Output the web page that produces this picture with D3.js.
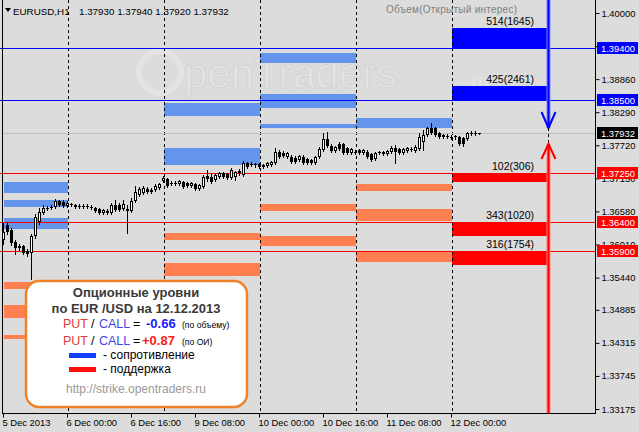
<!DOCTYPE html>
<html><head><meta charset="utf-8">
<script src="https://cdn.jsdelivr.net/npm/d3@7"></script>
<style>
html,body{margin:0;padding:0;background:#dcdcdc;}
svg{display:block;font-family:"Liberation Sans",Arial,sans-serif;}
</style></head><body>
<svg id="c" width="639" height="432"></svg>
<script>
// ---------- data ----------
const opens  = [1.36087,1.36346,1.36259,1.36053,1.35984,1.35984,1.35898,1.35863,1.36156,1.36398,1.36552,1.36621,1.36639,1.36656,1.36759,1.36742,
1.36673,1.36708,1.36690,1.36673,1.36673,1.36665,1.36656,1.36639,1.36621,1.36552,1.36587,1.36552,1.36690,1.36690,1.36621,1.36621,1.36587,1.36759,1.36863,1.36897,1.36966,1.36949,1.36949,1.36983,
1.37104,1.37139,1.37070,1.37060,1.37052,1.37087,1.37070,1.37018,1.37052,1.36966,1.37001,1.37190,1.37173,1.37121,1.37173,1.37242,1.37225,1.37156,1.37173,1.37242,1.37208,1.37415,1.37397,1.37390,
1.37397,1.37380,1.37363,1.37380,1.37415,1.37604,1.37587,1.37518,1.37518,1.37501,1.37466,1.37518,1.37484,1.37466,1.37415,1.37518,1.37639,1.37828,1.37708,1.37621,1.37742,1.37742,1.37673,1.37587,
1.37604,1.37639,1.37587,1.37604,1.37570,1.37484,1.37604,1.37604,1.37570,1.37604,1.37673,1.37656,1.37587,1.37621,1.37656,1.37621,1.37656,1.37777,1.37897,1.38018,1.38018,1.37932,1.37897,1.37880,
1.37863,1.37858,1.37863,1.37846,1.37828,1.37932,1.37925,1.37930];
const highs  = [1.36380,1.36398,1.36294,1.36087,1.36018,1.36001,1.35932,1.36190,1.36535,1.36639,1.36690,1.36673,1.36690,1.36794,1.36777,1.36777,
1.36759,1.36725,1.36708,1.36708,1.36708,1.36708,1.36690,1.36656,1.36639,1.36621,1.36621,1.36725,1.36777,1.36725,1.36777,1.36690,1.36811,1.37018,1.37001,1.37018,1.37001,1.36983,1.37052,1.37070,
1.37190,1.37156,1.37104,1.37104,1.37121,1.37104,1.37087,1.37087,1.37070,1.37052,1.37208,1.37294,1.37242,1.37225,1.37259,1.37259,1.37242,1.37328,1.37277,1.37311,1.37449,1.37432,1.37432,1.37415,
1.37415,1.37397,1.37432,1.37449,1.37673,1.37639,1.37621,1.37604,1.37553,1.37535,1.37553,1.37553,1.37501,1.37484,1.37535,1.37690,1.37932,1.37949,1.37742,1.37708,1.37777,1.37759,1.37690,1.37673,
1.37639,1.37656,1.37656,1.37639,1.37587,1.37604,1.37621,1.37621,1.37639,1.37708,1.37725,1.37673,1.37673,1.37690,1.37690,1.37725,1.37932,1.37983,1.38035,1.38104,1.38035,1.37949,1.37915,1.37915,
1.37897,1.37897,1.37880,1.37863,1.37949,1.37966,1.37966,1.37940];
const lows   = [1.36018,1.36190,1.36001,1.35846,1.35915,1.35846,1.35812,1.35415,1.36122,1.36363,1.36535,1.36604,1.36621,1.36639,1.36673,1.36656,
1.36656,1.36673,1.36639,1.36639,1.36639,1.36639,1.36621,1.36570,1.36535,1.36535,1.36535,1.36535,1.36587,1.36587,1.36604,1.36208,1.36570,1.36742,1.36846,1.36880,1.36897,1.36897,1.36932,1.36966,
1.37087,1.37001,1.37035,1.37035,1.37035,1.36983,1.37001,1.37001,1.36949,1.36949,1.36983,1.37104,1.37070,1.37104,1.37156,1.37156,1.37139,1.37139,1.37121,1.37208,1.37190,1.37328,1.37363,1.37346,
1.37328,1.37328,1.37346,1.37363,1.37397,1.37501,1.37518,1.37501,1.37415,1.37415,1.37449,1.37397,1.37397,1.37397,1.37397,1.37501,1.37621,1.37690,1.37604,1.37604,1.37639,1.37570,1.37570,1.37570,
1.37570,1.37570,1.37570,1.37501,1.37449,1.37466,1.37570,1.37553,1.37553,1.37587,1.37415,1.37570,1.37570,1.37604,1.37621,1.37604,1.37639,1.37639,1.37880,1.37915,1.37880,1.37846,1.37846,1.37846,
1.37828,1.37828,1.37725,1.37708,1.37811,1.37897,1.37897,1.37920];
const closes = [1.36225,1.36225,1.36036,1.35949,1.35949,1.35863,1.35846,1.36156,1.36483,1.36570,1.36639,1.36639,1.36656,1.36759,1.36690,1.36673,
1.36725,1.36690,1.36656,1.36665,1.36656,1.36673,1.36650,1.36587,1.36552,1.36604,1.36552,1.36690,1.36604,1.36604,1.36708,1.36587,1.36759,1.36914,1.36966,1.36983,1.36914,1.36914,1.37018,1.37052,
1.37156,1.37018,1.37060,1.37070,1.37104,1.37001,1.37018,1.37070,1.36966,1.37035,1.37173,1.37139,1.37087,1.37208,1.37242,1.37173,1.37156,1.37294,1.37259,1.37277,1.37415,1.37346,1.37390,1.37380,
1.37346,1.37346,1.37415,1.37432,1.37604,1.37518,1.37535,1.37587,1.37432,1.37432,1.37535,1.37415,1.37415,1.37415,1.37518,1.37656,1.37828,1.37708,1.37621,1.37690,1.37656,1.37587,1.37587,1.37656,
1.37595,1.37587,1.37639,1.37518,1.37466,1.37587,1.37595,1.37570,1.37621,1.37673,1.37604,1.37587,1.37656,1.37673,1.37650,1.37690,1.37863,1.37897,1.38018,1.37932,1.37897,1.37863,1.37863,1.37875,
1.37858,1.37880,1.37742,1.37742,1.37932,1.37925,1.37930,1.37932];

const symbol = "EURUSD,H1";
const lastBar = ["1.37930","1.37940","1.37920","1.37932"];
const timeTickIdx = [0,16,32,48,64,80,96,112];
const timeTickLabels = ["5 Dec 2013","6 Dec 00:00","6 Dec 16:00","9 Dec 08:00","10 Dec 00:00","10 Dec 16:00","11 Dec 08:00","12 Dec 00:00"];
const daySepIdx = [16,40,64,88,112];
const priceTicks = [1.40000,1.39430,1.38860,1.38290,1.37720,1.37150,1.36580,1.36010,1.35440,1.34885,1.34315,1.33745,1.33175];
// 1.39430 is fully covered by the 1.39400 marker in the reference, so its label is blank
const priceTickLabels = ["1.40000","","1.38860","1.38290","1.37720","1.37150","1.36580","1.36010","1.35440","1.34885","1.34315","1.33745","1.33175"];

// past option levels: [startBar, endBar, top, bottom]
const pastResist = [
 [0,16,1.37087,1.36897],[0,16,1.36777,1.36656],[0,16,1.36466,1.36277],
 [40,64,1.38449,1.38225],[40,64,1.37673,1.37380],
 [64,88,1.39311,1.39138],[64,88,1.38604,1.38363],[64,88,1.38087,1.38018],
 [88,112,1.38190,1.38018]
];
const pastSupport = [
 [0,16,1.35364,1.35243],[0,16,1.34967,1.34743],[0,16,1.34450,1.34381],
 [40,64,1.36208,1.36087],[40,64,1.35691,1.35467],
 [64,88,1.36708,1.36587],[64,88,1.36156,1.35984],
 [88,112,1.37052,1.36932],[88,112,1.36621,1.36415],[88,112,1.35898,1.35708]
];
// current day (12 Dec) levels
const curStart = 112, curEnd = 136;
const curResLevel = [1.39400, 1.38500];
const curResTop   = [1.39741, 1.38742];
const curResLabel = ["514(1645)", "425(2461)"];
const curSupLevel = [1.37250, 1.36400, 1.35900];
const curSupBottom= [1.37087, 1.36156, 1.35657];
const curSupLabel = ["102(306)", "343(1020)", "316(1754)"];
const lastPrice = 1.37932;
const putCallVolume = "-0.66", putCallOI = "+0.87";

// ---------- drawing ----------
const svg = d3.select("#c");
const W = 639, H = 432;
const plotL = 2, plotR = 595, plotB = 413;
const x = d3.scaleLinear().domain([0, 119]).range([3.5, 479.5]);
const y = d3.scaleLinear().domain([1.33175, 1.40000]).range([409, 13]);
const py = v => Math.round(y(v)) + 0.5;

svg.append("rect").attr("width", W).attr("height", H).attr("fill", "#dcdcdc");

// watermark
const wm = svg.append("g").attr("opacity", 0.25);
wm.append("circle").attr("cx", 160).attr("cy", 72).attr("r", 21).attr("fill", "none").attr("stroke", "#ffffff").attr("stroke-width", 6);
wm.append("text").attr("x", 184).attr("y", 88).attr("font-size", 42).attr("fill", "#ffffff").attr("stroke", "#bdbdbd").attr("stroke-width", 1).text("penTraders");
wm.append("text").attr("x", 466).attr("y", 88).attr("font-size", 20).attr("fill", "#ffffff").text(".ru");

// past level blocks
svg.append("g").selectAll("rect").data(pastResist).join("rect")
  .attr("x", d => Math.round(x(d[0]))).attr("width", d => Math.round(x(d[1])) - Math.round(x(d[0])))
  .attr("y", d => Math.round(y(d[2]))).attr("height", d => Math.round(y(d[3])) - Math.round(y(d[2])))
  .attr("fill", "#6495ed");
svg.append("g").selectAll("rect").data(pastSupport).join("rect")
  .attr("x", d => Math.round(x(d[0]))).attr("width", d => Math.round(x(d[1])) - Math.round(x(d[0])))
  .attr("y", d => Math.round(y(d[2]))).attr("height", d => Math.round(y(d[3])) - Math.round(y(d[2])))
  .attr("fill", "#ff7f50");

// current blocks
const cx0 = Math.round(x(curStart)), cx1 = Math.round(x(curEnd));
curResLevel.forEach((lv, i) => {
  const t = Math.round(y(curResTop[i])), b = Math.round(y(lv));
  svg.append("rect").attr("x", cx0).attr("width", cx1 - cx0).attr("y", t).attr("height", b - t).attr("fill", "#0000ff");
  svg.append("text").attr("x", 534).attr("y", t - 3).attr("text-anchor", "end").attr("font-size", 10.5).attr("fill", "#000").text(curResLabel[i]);
});
curSupLevel.forEach((lv, i) => {
  const t = Math.round(y(lv)), b = Math.round(y(curSupBottom[i]));
  svg.append("rect").attr("x", cx0).attr("width", cx1 - cx0).attr("y", t).attr("height", b - t).attr("fill", "#ff0000");
  svg.append("text").attr("x", 534).attr("y", t - 3).attr("text-anchor", "end").attr("font-size", 10.5).attr("fill", "#000").text(curSupLabel[i]);
});

// day separators
svg.append("g").selectAll("line").data(daySepIdx).join("line")
  .attr("x1", d => Math.round(x(d)) + 0.5).attr("x2", d => Math.round(x(d)) + 0.5)
  .attr("y1", 0).attr("y2", plotB)
  .attr("stroke", "#000").attr("stroke-dasharray", "3,3");

// last price line
svg.append("line").attr("x1", plotL).attr("x2", plotR).attr("y1", py(lastPrice)).attr("y2", py(lastPrice)).attr("stroke", "#c0c0c0");

// level lines
curResLevel.forEach(lv => svg.append("line").attr("x1", 0).attr("x2", plotR).attr("y1", py(lv)).attr("y2", py(lv)).attr("stroke", "#0000ff"));
curSupLevel.forEach(lv => svg.append("line").attr("x1", 0).attr("x2", plotR).attr("y1", py(lv)).attr("y2", py(lv)).attr("stroke", "#ff0000"));

// candles
const bars = d3.range(opens.length).map(i => ({i, o: opens[i], h: highs[i], l: lows[i], c: closes[i]}));
const cg = svg.append("g");
bars.forEach(d => {
  const cx = x(d.i);
  cg.append("line").attr("x1", cx).attr("x2", cx).attr("y1", Math.round(y(d.h))).attr("y2", Math.round(y(d.l)) + 1).attr("stroke", "#000");
  const top = Math.round(y(Math.max(d.o, d.c))), bot = Math.round(y(Math.min(d.o, d.c)));
  const hgt = bot - top;
  if (hgt <= 1) {
    cg.append("rect").attr("x", cx - 1.5).attr("y", top).attr("width", 3).attr("height", 1).attr("fill", "#000");
  } else if (d.c > d.o) {
    cg.append("rect").attr("x", cx - 1).attr("y", top + 0.5).attr("width", 2).attr("height", hgt - 1).attr("fill", "#fff").attr("stroke", "#000");
  } else {
    cg.append("rect").attr("x", cx - 1.5).attr("y", top).attr("width", 3).attr("height", hgt).attr("fill", "#000");
  }
});

// arrows to last price
const ax = Math.round(x(curEnd)) + 0.5;
const ly = y(lastPrice);
svg.append("line").attr("x1", ax).attr("x2", ax).attr("y1", 0).attr("y2", ly - 5).attr("stroke", "#8080ff").attr("stroke-width", 4);
svg.append("line").attr("x1", ax).attr("x2", ax).attr("y1", 0).attr("y2", ly - 5).attr("stroke", "#0000ff").attr("stroke-width", 2);
svg.append("polyline").attr("points", `${ax-7},${ly-21} ${ax},${ly-5} ${ax+7},${ly-21}`).attr("fill", "none").attr("stroke", "#0000ff").attr("stroke-width", 2);
svg.append("line").attr("x1", ax).attr("x2", ax).attr("y1", ly - 5).attr("y2", ly + 11).attr("stroke", "#000").attr("stroke-dasharray", "3,3");
svg.append("line").attr("x1", ax).attr("x2", ax).attr("y1", ly + 11).attr("y2", plotB).attr("stroke", "#ff8080").attr("stroke-width", 4);
svg.append("line").attr("x1", ax).attr("x2", ax).attr("y1", ly + 11).attr("y2", plotB).attr("stroke", "#ff0000").attr("stroke-width", 2);
svg.append("polyline").attr("points", `${ax-7},${ly+26} ${ax},${ly+11} ${ax+7},${ly+26}`).attr("fill", "none").attr("stroke", "#ff0000").attr("stroke-width", 2);

// frame
svg.append("line").attr("x1", plotL + 0.5).attr("x2", plotL + 0.5).attr("y1", 0).attr("y2", plotB).attr("stroke", "#000");
svg.append("line").attr("x1", plotL).attr("x2", plotR + 1).attr("y1", plotB + 0.5).attr("y2", plotB + 0.5).attr("stroke", "#000");
svg.append("line").attr("x1", plotR + 0.5).attr("x2", plotR + 0.5).attr("y1", 0).attr("y2", plotB + 1).attr("stroke", "#000");

// right price axis
const yAxis = d3.axisRight(y).tickValues(priceTicks).tickSize(4).tickPadding(2)
  .tickFormat((d, i) => priceTickLabels[i]);
const ya = svg.append("g").attr("transform", `translate(${plotR + 0.5},0)`).call(yAxis);
ya.select(".domain").remove();
ya.selectAll(".tick line").attr("stroke", "#000");
ya.selectAll(".tick text").attr("font-size", 9.4).attr("font-family", "Liberation Sans, Arial").attr("fill", "#000");

// price label boxes
function priceBox(v, fill, label) {
  const yy = Math.round(y(v));
  svg.append("rect").attr("x", 597).attr("y", yy - 6).attr("width", 41).attr("height", 12).attr("fill", fill);
  svg.append("text").attr("x", 601).attr("y", yy + 3.5).attr("font-size", 9.4).attr("fill", "#fff").text(label);
}
curResLevel.forEach(v => priceBox(v, "#0000ff", v.toFixed(5)));
curSupLevel.forEach(v => priceBox(v, "#ff0000", v.toFixed(5)));
priceBox(lastPrice, "#000000", lastPrice.toFixed(5));

// time axis
const xAxis = d3.axisBottom(x).tickValues(timeTickIdx).tickSize(4).tickFormat((d, i) => timeTickLabels[i]);
const xa = svg.append("g").attr("transform", `translate(-0.5,${plotB + 0.5})`).call(xAxis);
xa.select(".domain").remove();
xa.selectAll(".tick line").attr("stroke", "#000");
xa.selectAll(".tick text").attr("text-anchor", "start").attr("dx", -1).attr("dy", 0).attr("y", 12.5)
  .attr("font-size", 9.4).attr("font-family", "Liberation Sans, Arial").attr("fill", "#000");

// header
svg.append("polygon").attr("points", "5,8 11,8 8,12").attr("fill", "#000");
svg.append("text").attr("x", 13).attr("y", 15).attr("font-size", 9.8).attr("fill", "#000").text(symbol);
svg.append("text").attr("x", 79).attr("y", 15).attr("font-size", 9.8).attr("fill", "#000").text(lastBar.join(" "));
svg.append("text").attr("x", 386).attr("y", 13).attr("font-size", 10).attr("fill", "#808080").attr("textLength", 131).text("Объем(Открытый интерес)");

// legend box
const lg = svg.append("g");
lg.append("rect").attr("x", 26).attr("y", 281).attr("width", 221).attr("height", 126).attr("rx", 13)
  .attr("fill", "#fff").attr("stroke", "#f0822a").attr("stroke-width", 2.5);
lg.append("text").attr("x", 136).attr("y", 297).attr("text-anchor", "middle").attr("font-size", 13).attr("font-weight", "bold").attr("fill", "#3a3a3a").text("Опционные уровни");
lg.append("text").attr("x", 136).attr("y", 313).attr("text-anchor", "middle").attr("font-size", 13).attr("font-weight", "bold").attr("fill", "#3a3a3a").text("по EUR /USD на 12.12.2013");
function ratioLine(yy, val, valX, valColor, note) {
  lg.append("text").attr("x", 63).attr("y", yy).attr("font-size", 12.5).attr("fill", "#e03c3c").text("PUT");
  lg.append("text").attr("x", 91).attr("y", yy).attr("font-size", 12.5).attr("fill", "#000").text("/");
  lg.append("text").attr("x", 99).attr("y", yy).attr("font-size", 12.5).attr("fill", "#3c46e6").text("CALL");
  lg.append("text").attr("x", 133).attr("y", yy).attr("font-size", 12.5).attr("fill", "#000").text("=");
  lg.append("text").attr("x", valX).attr("y", yy).attr("font-size", 13).attr("font-weight", "bold").attr("fill", valColor).text(val);
  lg.append("text").attr("x", 182).attr("y", yy).attr("font-size", 8.6).attr("fill", "#000").text(note);
}
ratioLine(328, putCallVolume, 146, "#1a1aff", "(по объему)");
ratioLine(345, putCallOI, 142, "#ff1a1a", "(по ОИ)");
lg.append("rect").attr("x", 69).attr("y", 353).attr("width", 27).attr("height", 5).attr("fill", "#1040ff");
lg.append("text").attr("x", 103).attr("y", 359).attr("font-size", 12).attr("fill", "#000").text("- сопротивление");
lg.append("rect").attr("x", 69).attr("y", 367).attr("width", 27).attr("height", 5).attr("fill", "#ff1010");
lg.append("text").attr("x", 103).attr("y", 373).attr("font-size", 12).attr("fill", "#000").text("- поддержка");
lg.append("text").attr("x", 136).attr("y", 393).attr("text-anchor", "middle").attr("font-size", 12).attr("fill", "#9a9a9a").text("http://strike.opentraders.ru");
</script>
</body></html>
